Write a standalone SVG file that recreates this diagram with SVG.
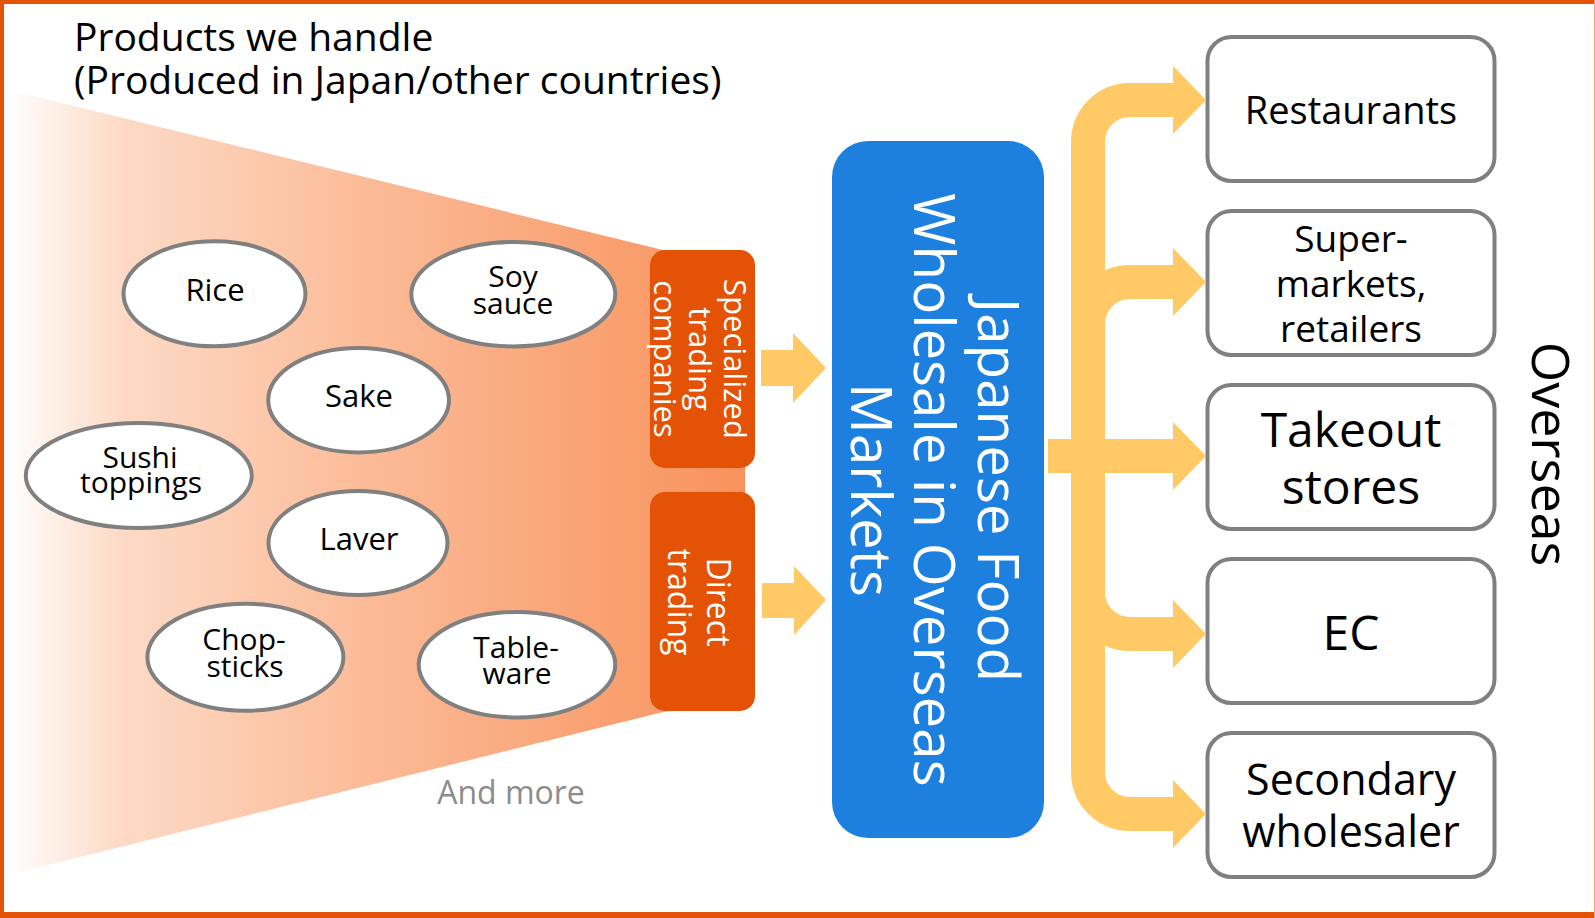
<svg xmlns="http://www.w3.org/2000/svg" width="1595" height="918" viewBox="0 0 1595 918">
  <defs>
    <linearGradient id="funnelFill" gradientUnits="userSpaceOnUse" x1="4" y1="0" x2="745" y2="0">
      <stop offset="0" stop-color="#FFFFFF"/>
      <stop offset="0.16" stop-color="#FDDAC6"/>
      <stop offset="0.5" stop-color="#FBBA96"/>
      <stop offset="1" stop-color="#F8925C"/>
    </linearGradient>
    <style>
      text { font-family: 'Open Sans', 'Noto Sans', sans-serif; }
      .title { font-size: 39px; fill: #000; }
      .item ellipse { fill: #FFFFFF; stroke: #808080; stroke-width: 4; }
      .item text { font-size: 30px; fill: #000; text-anchor: middle; }
      .item text.one { font-size: 31px; }
      .route rect { fill: #E35205; }
      .route text { fill: #FFFFFF; text-anchor: middle; }
      .hub rect { fill: #1E80DE; }
      .hub text { fill: #FFFFFF; font-size: 56.5px; text-anchor: middle; }
      .outlet rect { fill: #FFFFFF; stroke: #808080; stroke-width: 4; }
      .outlet text { fill: #000; text-anchor: middle; }
      .flow { fill: none; stroke: #FFC966; stroke-width: 34; stroke-linecap: butt; }
      .head { fill: #FFC966; }
      .frame { fill: #E35205; }
    </style>
  </defs>

  <rect width="1595" height="918" fill="#FFFFFF"/>

  <!-- product funnel -->
  <polygon id="funnel" points="4,89 663,250 745,262 745,700 663,712 4,876" fill="url(#funnelFill)"/>

  <!-- heading -->
  <g id="heading">
    <text class="title" x="74" y="50.5">Products we handle<tspan x="74" y="93.5">(Produced in Japan/other countries)</tspan></text>
  </g>

  <!-- products -->
  <g id="item-rice" class="item">
    <ellipse cx="214.5" cy="293.8" rx="91" ry="52.5"/>
    <text class="one" x="215" y="301">Rice</text>
  </g>
  <g id="item-soy-sauce" class="item">
    <ellipse cx="513.3" cy="294.2" rx="102" ry="52.2"/>
    <text x="513" y="287">Soy<tspan x="513" y="314">sauce</tspan></text>
  </g>
  <g id="item-sake" class="item">
    <ellipse cx="358.6" cy="400.2" rx="90.4" ry="52.2"/>
    <text class="one" x="359" y="407">Sake</text>
  </g>
  <g id="item-sushi" class="item">
    <ellipse cx="138.8" cy="475.5" rx="113" ry="52.5"/>
    <text x="140" y="468">Sushi<tspan x="141" y="493">toppings</tspan></text>
  </g>
  <g id="item-laver" class="item">
    <ellipse cx="358" cy="543" rx="89.5" ry="52"/>
    <text class="one" x="359" y="550">Laver</text>
  </g>
  <g id="item-chopsticks" class="item">
    <ellipse cx="245.4" cy="657.2" rx="98" ry="53.5"/>
    <text x="244" y="650">Chop-<tspan x="245" y="677">sticks</tspan></text>
  </g>
  <g id="item-tableware" class="item">
    <ellipse cx="517" cy="664.7" rx="98.3" ry="52.7"/>
    <text x="516" y="658">Table-<tspan x="517" y="684">ware</tspan></text>
  </g>

  <text id="and-more" x="511" y="804" font-size="32" fill="#8C8C8C" text-anchor="middle">And more</text>

  <!-- supply routes -->
  <g id="route-specialized" class="route">
    <rect x="650" y="250" width="105" height="218" rx="15"/>
    <text font-size="31" transform="translate(724,359) rotate(90)">Specialized<tspan x="0" dy="35">trading</tspan><tspan x="0" dy="35">companies</tspan></text>
  </g>
  <g id="route-direct" class="route">
    <rect x="650" y="492" width="105" height="219" rx="15"/>
    <text font-size="32" transform="translate(707,602) rotate(90)">Direct<tspan x="0" dy="39">trading</tspan></text>
  </g>

  <!-- wholesale hub -->
  <g id="hub" class="hub">
    <rect x="832" y="141" width="212" height="697" rx="36"/>
    <text transform="translate(978,490) rotate(90)">Japanese Food<tspan x="0" dy="64">Wholesale in Overseas</tspan><tspan x="0" dy="63">Markets</tspan></text>
  </g>

  <!-- customers -->
  <g id="outlet-restaurants" class="outlet">
    <rect x="1207.5" y="37" width="287" height="144" rx="24"/>
    <text x="1351" y="124" font-size="38">Restaurants</text>
  </g>
  <g id="outlet-supermarkets" class="outlet">
    <rect x="1207.5" y="211" width="287" height="144" rx="24"/>
    <text x="1351" y="252" font-size="37">Super-<tspan x="1351" y="297">markets,</tspan><tspan x="1351" y="342">retailers</tspan></text>
  </g>
  <g id="outlet-takeout" class="outlet">
    <rect x="1207.5" y="385" width="287" height="144" rx="24"/>
    <text x="1351" y="447" font-size="48">Takeout<tspan x="1351" y="504">stores</tspan></text>
  </g>
  <g id="outlet-ec" class="outlet">
    <rect x="1207.5" y="559" width="287" height="144" rx="24"/>
    <text x="1351" y="650" font-size="48">EC</text>
  </g>
  <g id="outlet-secondary" class="outlet">
    <rect x="1207.5" y="733" width="287" height="144" rx="24"/>
    <text x="1351" y="795" font-size="43">Secondary<tspan x="1351" y="847">wholesaler</tspan></text>
  </g>

  <text id="overseas" font-size="52" fill="#000" text-anchor="middle" transform="translate(1532,454) rotate(90)">Overseas</text>

  <!-- connectors -->
  <g id="connectors">
    <polygon class="head" points="761,350 793,350 793,333 826,368 793,403 793,386 761,386"/>
    <polygon class="head" points="762,583 794,583 794,566 826,600 794,635 794,618 762,618"/>

    <path class="flow" d="M1088,456 V142 A42,42 0 0 1 1130,100 H1175"/>
    <path class="flow" d="M1088,456 V324 A42,42 0 0 1 1130,282 H1175"/>
    <path class="flow" d="M1048,456 H1175"/>
    <path class="flow" d="M1088,456 V592 A42,42 0 0 0 1130,634 H1175"/>
    <path class="flow" d="M1088,456 V772 A42,42 0 0 0 1130,814 H1175"/>

    <polygon class="head" points="1173,66 1206,100 1173,134"/>
    <polygon class="head" points="1173,248 1206,282 1173,316"/>
    <polygon class="head" points="1173,422 1206,456 1173,490"/>
    <polygon class="head" points="1173,600 1206,634 1173,668"/>
    <polygon class="head" points="1173,780 1206,814 1173,848"/>
  </g>

  <!-- outer frame -->
  <g id="frame">
    <rect class="frame" x="0" y="0" width="1595" height="4"/>
    <rect class="frame" x="0" y="0" width="4" height="918"/>
    <rect class="frame" x="0" y="912" width="1595" height="6"/>
    <rect x="1594" y="0" width="1" height="918" fill="#F4A67C"/>
  </g>
</svg>
